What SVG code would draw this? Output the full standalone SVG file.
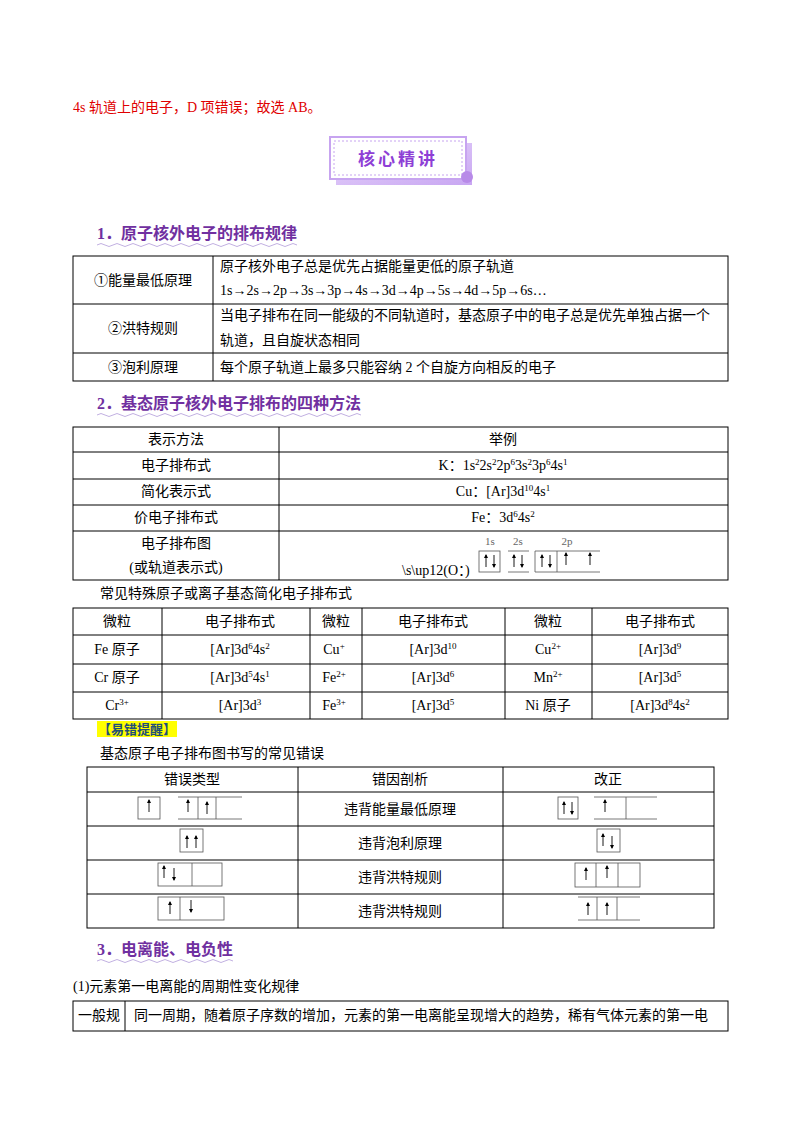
<svg xmlns="http://www.w3.org/2000/svg" width="800" height="1132" viewBox="0 0 800 1132">
<style>
text{font-family:"Liberation Serif","Noto Sans CJK SC",serif;font-size:14px;fill:#000}
.c{text-anchor:middle}
.h{font-family:"Liberation Serif","Noto Sans CJK SC",sans-serif;font-weight:bold;font-size:16px;fill:#7030a0}
.t{fill:none;stroke:#000;stroke-width:1}
.o{fill:none;stroke:#555;stroke-width:0.8}
.a{stroke:#000;stroke-width:0.9}
.sm{font-size:9px}
</style>
<defs>
<g id="up"><line class="a" x1="0" y1="-6" x2="0" y2="6"/><path d="M-2,-3 L0,-7 L2,-3Z"/></g>
<g id="dn"><line class="a" x1="0" y1="-6" x2="0" y2="6"/><path d="M-2,3 L0,7 L2,3Z"/></g>
<linearGradient id="bg" x1="0" y1="0" x2="1" y2="1"><stop offset="0" stop-color="#e9d8fb"/><stop offset="1" stop-color="#c8a6f2"/></linearGradient>
</defs>
<rect width="800" height="1132" fill="#fff"/>
<text x="73" y="112" style="fill:#e00000">4s 轨道上的电子，D 项错误；故选 AB。</text>
<g id="banner">
<rect x="336" y="143" width="136" height="42" fill="url(#bg)"/>
<rect x="330" y="137" width="136" height="42" fill="#fff" stroke="#c7a4f0" stroke-width="2"/>
<rect x="334" y="141" width="128" height="34" fill="none" stroke="#c7a4f0" stroke-dasharray="2,2"/>
<circle cx="467" cy="177" r="6" fill="#b88ae8"/>
<text x="398" y="165" class="c" style="font-family:'Noto Sans CJK SC',sans-serif;font-weight:bold;font-size:17px;fill:#8e3fd6;letter-spacing:3px">核心精讲</text>
</g>
<g id="h1"><text x="97" y="239" class="h">1．原子核外电子的排布规律</text>
<path d="M97,245 q4,-3 8,0 t8,0 t8,0 t8,0 t8,0 t8,0 t8,0 t8,0 t8,0 t8,0 t8,0 t8,0 t8,0 t8,0 t8,0 t8,0 t8,0 t8,0 t8,0 t8,0 t8,0 t8,0 t8,0 t8,0 t8,0" fill="none" stroke="#b19cd9" stroke-width="0.8"/></g>
<g id="table1">
<rect class="t" x="73" y="256" width="655" height="125"/>
<line class="t" x1="213" y1="256" x2="213" y2="381"/>
<line class="t" x1="73" y1="304" x2="728" y2="304"/>
<line class="t" x1="73" y1="353" x2="728" y2="353"/>
<text x="143" y="285" class="c">①能量最低原理</text>
<text x="220" y="271">原子核外电子总是优先占据能量更低的原子轨道</text>
<text x="220" y="295">1s→2s→2p→3s→3p→4s→3d→4p→5s→4d→5p→6s…</text>
<text x="143" y="333" class="c">②洪特规则</text>
<text x="220" y="320">当电子排布在同一能级的不同轨道时，基态原子中的电子总是优先单独占据一个</text>
<text x="220" y="345">轨道，且自旋状态相同</text>
<text x="143" y="372" class="c">③泡利原理</text>
<text x="220" y="372">每个原子轨道上最多只能容纳 2 个自旋方向相反的电子</text>
</g>
<g id="h2"><text x="97" y="409" class="h">2．基态原子核外电子排布的四种方法</text>
<path d="M97,415 q4,-3 8,0 t8,0 t8,0 t8,0 t8,0 t8,0 t8,0 t8,0 t8,0 t8,0 t8,0 t8,0 t8,0 t8,0 t8,0 t8,0 t8,0 t8,0 t8,0 t8,0 t8,0 t8,0 t8,0 t8,0 t8,0 t8,0 t8,0 t8,0 t8,0 t8,0 t8,0 t8,0 t8,0" fill="none" stroke="#b19cd9" stroke-width="0.8"/></g>
<g id="table2">
<rect class="t" x="73" y="427" width="655" height="153"/>
<line class="t" x1="279" y1="427" x2="279" y2="580"/>
<line class="t" x1="73" y1="452" x2="728" y2="452"/>
<line class="t" x1="73" y1="479" x2="728" y2="479"/>
<line class="t" x1="73" y1="505" x2="728" y2="505"/>
<line class="t" x1="73" y1="531" x2="728" y2="531"/>
<text x="176" y="444" class="c">表示方法</text><text x="503" y="444" class="c">举例</text>
<text x="176" y="470" class="c">电子排布式</text>
<text x="503" y="470" class="c">K：1s<tspan class="sm" dy="-5">2</tspan><tspan dy="5">2s</tspan><tspan class="sm" dy="-5">2</tspan><tspan dy="5">2p</tspan><tspan class="sm" dy="-5">6</tspan><tspan dy="5">3s</tspan><tspan class="sm" dy="-5">2</tspan><tspan dy="5">3p</tspan><tspan class="sm" dy="-5">6</tspan><tspan dy="5">4s</tspan><tspan class="sm" dy="-5">1</tspan></text>
<text x="176" y="496" class="c">简化表示式</text>
<text x="503" y="496" class="c">Cu：[Ar]3d<tspan class="sm" dy="-5">10</tspan><tspan dy="5">4s</tspan><tspan class="sm" dy="-5">1</tspan></text>
<text x="176" y="522" class="c">价电子排布式</text>
<text x="503" y="522" class="c">Fe：3d<tspan class="sm" dy="-5">6</tspan><tspan dy="5">4s</tspan><tspan class="sm" dy="-5">2</tspan></text>
<text x="176" y="548" class="c">电子排布图</text>
<text x="176" y="572" class="c">(或轨道表示式)</text>
<text x="402" y="575">\s\up12(O：)</text>
<text x="490" y="545" class="c" style="font-size:11px;fill:#666">1s</text>
<text x="518" y="545" class="c" style="font-size:11px;fill:#666">2s</text>
<text x="567" y="545" class="c" style="font-size:11px;fill:#666">2p</text>
<rect class="o" x="479" y="551" width="21" height="21"/>
<use href="#up" x="486" y="561"/><use href="#dn" x="494" y="561"/>
<line class="o" x1="508" y1="551" x2="529" y2="551"/><line class="o" x1="508" y1="572" x2="529" y2="572"/>
<use href="#up" x="514" y="561"/><use href="#dn" x="522" y="561"/>
<line class="o" x1="535" y1="551" x2="600" y2="551"/><line class="o" x1="535" y1="572" x2="600" y2="572"/>
<line class="o" x1="535" y1="551" x2="535" y2="572"/><line class="o" x1="557" y1="551" x2="557" y2="572"/>
<use href="#up" x="542" y="561"/><use href="#dn" x="550" y="561"/><use href="#up" x="566" y="559"/><use href="#up" x="590" y="559"/>
</g>
<text x="100" y="598">常见特殊原子或离子基态简化电子排布式</text>
<g id="table3">
<rect class="t" x="73" y="608" width="655" height="111"/>
<line class="t" x1="162" y1="608" x2="162" y2="719"/>
<line class="t" x1="310" y1="608" x2="310" y2="719"/>
<line class="t" x1="362" y1="608" x2="362" y2="719"/>
<line class="t" x1="505" y1="608" x2="505" y2="719"/>
<line class="t" x1="592" y1="608" x2="592" y2="719"/>
<line class="t" x1="73" y1="635" x2="728" y2="635"/>
<line class="t" x1="73" y1="664" x2="728" y2="664"/>
<line class="t" x1="73" y1="692" x2="728" y2="692"/>
<text x="117" y="626" class="c">微粒</text><text x="240" y="626" class="c">电子排布式</text><text x="336" y="626" class="c">微粒</text><text x="433" y="626" class="c">电子排布式</text><text x="548" y="626" class="c">微粒</text><text x="660" y="626" class="c">电子排布式</text>
<text x="117" y="654" class="c">Fe 原子</text>
<text x="240" y="654" class="c">[Ar]3d<tspan class="sm" dy="-5">6</tspan><tspan dy="5">4s</tspan><tspan class="sm" dy="-5">2</tspan></text>
<text x="334" y="654" class="c">Cu<tspan class="sm" dy="-5">+</tspan></text>
<text x="433" y="654" class="c">[Ar]3d<tspan class="sm" dy="-5">10</tspan></text>
<text x="548" y="654" class="c">Cu<tspan class="sm" dy="-5">2+</tspan></text>
<text x="660" y="654" class="c">[Ar]3d<tspan class="sm" dy="-5">9</tspan></text>
<text x="117" y="682" class="c">Cr 原子</text>
<text x="240" y="682" class="c">[Ar]3d<tspan class="sm" dy="-5">5</tspan><tspan dy="5">4s</tspan><tspan class="sm" dy="-5">1</tspan></text>
<text x="334" y="682" class="c">Fe<tspan class="sm" dy="-5">2+</tspan></text>
<text x="433" y="682" class="c">[Ar]3d<tspan class="sm" dy="-5">6</tspan></text>
<text x="548" y="682" class="c">Mn<tspan class="sm" dy="-5">2+</tspan></text>
<text x="660" y="682" class="c">[Ar]3d<tspan class="sm" dy="-5">5</tspan></text>
<text x="117" y="710" class="c">Cr<tspan class="sm" dy="-5">3+</tspan></text>
<text x="240" y="710" class="c">[Ar]3d<tspan class="sm" dy="-5">3</tspan></text>
<text x="334" y="710" class="c">Fe<tspan class="sm" dy="-5">3+</tspan></text>
<text x="433" y="710" class="c">[Ar]3d<tspan class="sm" dy="-5">5</tspan></text>
<text x="548" y="710" class="c">Ni 原子</text>
<text x="660" y="710" class="c">[Ar]3d<tspan class="sm" dy="-5">8</tspan><tspan dy="5">4s</tspan><tspan class="sm" dy="-5">2</tspan></text>
</g>
<rect x="97" y="721" width="80" height="16" fill="#ffff00"/>
<text x="98" y="734" style="font-weight:bold;fill:#1f4e79;font-size:13px">【易错提醒】</text>
<text x="100" y="758">基态原子电子排布图书写的常见错误</text>
<g id="table4">
<rect class="t" x="87" y="767" width="627" height="161"/>
<line class="t" x1="298" y1="767" x2="298" y2="928"/>
<line class="t" x1="503" y1="767" x2="503" y2="928"/>
<line class="t" x1="87" y1="792" x2="714" y2="792"/>
<line class="t" x1="87" y1="826" x2="714" y2="826"/>
<line class="t" x1="87" y1="860" x2="714" y2="860"/>
<line class="t" x1="87" y1="894" x2="714" y2="894"/>
<text x="192" y="784" class="c">错误类型</text><text x="400" y="784" class="c">错因剖析</text><text x="608" y="784" class="c">改正</text>
<text x="400" y="814" class="c">违背能量最低原理</text>
<text x="400" y="848" class="c">违背泡利原理</text>
<text x="400" y="882" class="c">违背洪特规则</text>
<text x="400" y="916" class="c">违背洪特规则</text>
<!-- row1 -->
<rect class="o" x="138" y="797" width="22" height="22"/><use href="#up" x="149" y="806"/>
<line class="o" x1="178" y1="797" x2="242" y2="797"/><line class="o" x1="178" y1="819" x2="242" y2="819"/>
<line class="o" x1="198" y1="797" x2="198" y2="819"/><line class="o" x1="216" y1="797" x2="216" y2="819"/>
<use href="#up" x="188" y="806"/><use href="#up" x="207" y="808"/>
<rect class="o" x="558" y="797" width="20" height="22"/><use href="#up" x="564" y="808"/><use href="#dn" x="572" y="808"/>
<line class="o" x1="594" y1="797" x2="657" y2="797"/><line class="o" x1="594" y1="819" x2="657" y2="819"/><line class="o" x1="626" y1="797" x2="626" y2="819"/>
<use href="#up" x="605" y="806"/>
<!-- row2 -->
<rect class="o" x="180" y="829" width="23" height="23" stroke="#bbb"/><use href="#up" x="187" y="842"/><use href="#up" x="196" y="842"/>
<rect class="o" x="597" y="829" width="23" height="23" stroke="#ddd"/><use href="#up" x="603" y="840"/><use href="#dn" x="612" y="842"/>
<!-- row3 -->
<rect class="o" x="158" y="863" width="64" height="23"/><line class="o" x1="192" y1="863" x2="192" y2="886"/>
<use href="#up" x="164" y="872"/><use href="#dn" x="174" y="874"/>
<rect class="o" x="575" y="863" width="65" height="24"/><line class="o" x1="596" y1="863" x2="596" y2="887"/><line class="o" x1="618" y1="863" x2="618" y2="887"/>
<use href="#up" x="586" y="874"/><use href="#up" x="607" y="872"/>
<!-- row4 -->
<rect class="o" x="158" y="897" width="66" height="23" stroke="#bbb"/><line class="o" x1="180" y1="897" x2="180" y2="920"/>
<use href="#up" x="170" y="908"/><use href="#dn" x="191" y="906"/>
<line class="o" x1="578" y1="897" x2="640" y2="897"/><line class="o" x1="578" y1="920" x2="640" y2="920"/>
<line class="o" x1="597" y1="897" x2="597" y2="920"/><line class="o" x1="617" y1="897" x2="617" y2="920"/>
<use href="#up" x="588" y="909"/><use href="#up" x="607" y="909"/>
</g>
<g id="h3"><text x="97" y="955" class="h">3．电离能、电负性</text>
<path d="M97,961 q4,-3 8,0 t8,0 t8,0 t8,0 t8,0 t8,0 t8,0 t8,0 t8,0 t8,0 t8,0 t8,0 t8,0 t8,0 t8,0 t8,0 t8,0" fill="none" stroke="#b19cd9" stroke-width="0.8"/></g>
<text x="73" y="991">(1)元素第一电离能的周期性变化规律</text>
<g id="table5">
<rect class="t" x="73" y="1001" width="655" height="30"/>
<line class="t" x1="125" y1="1001" x2="125" y2="1031"/>
<text x="99" y="1020" class="c">一般规</text>
<text x="134" y="1020">同一周期，随着原子序数的增加，元素的第一电离能呈现增大的趋势，稀有气体元素的第一电</text>
</g>
</svg>
